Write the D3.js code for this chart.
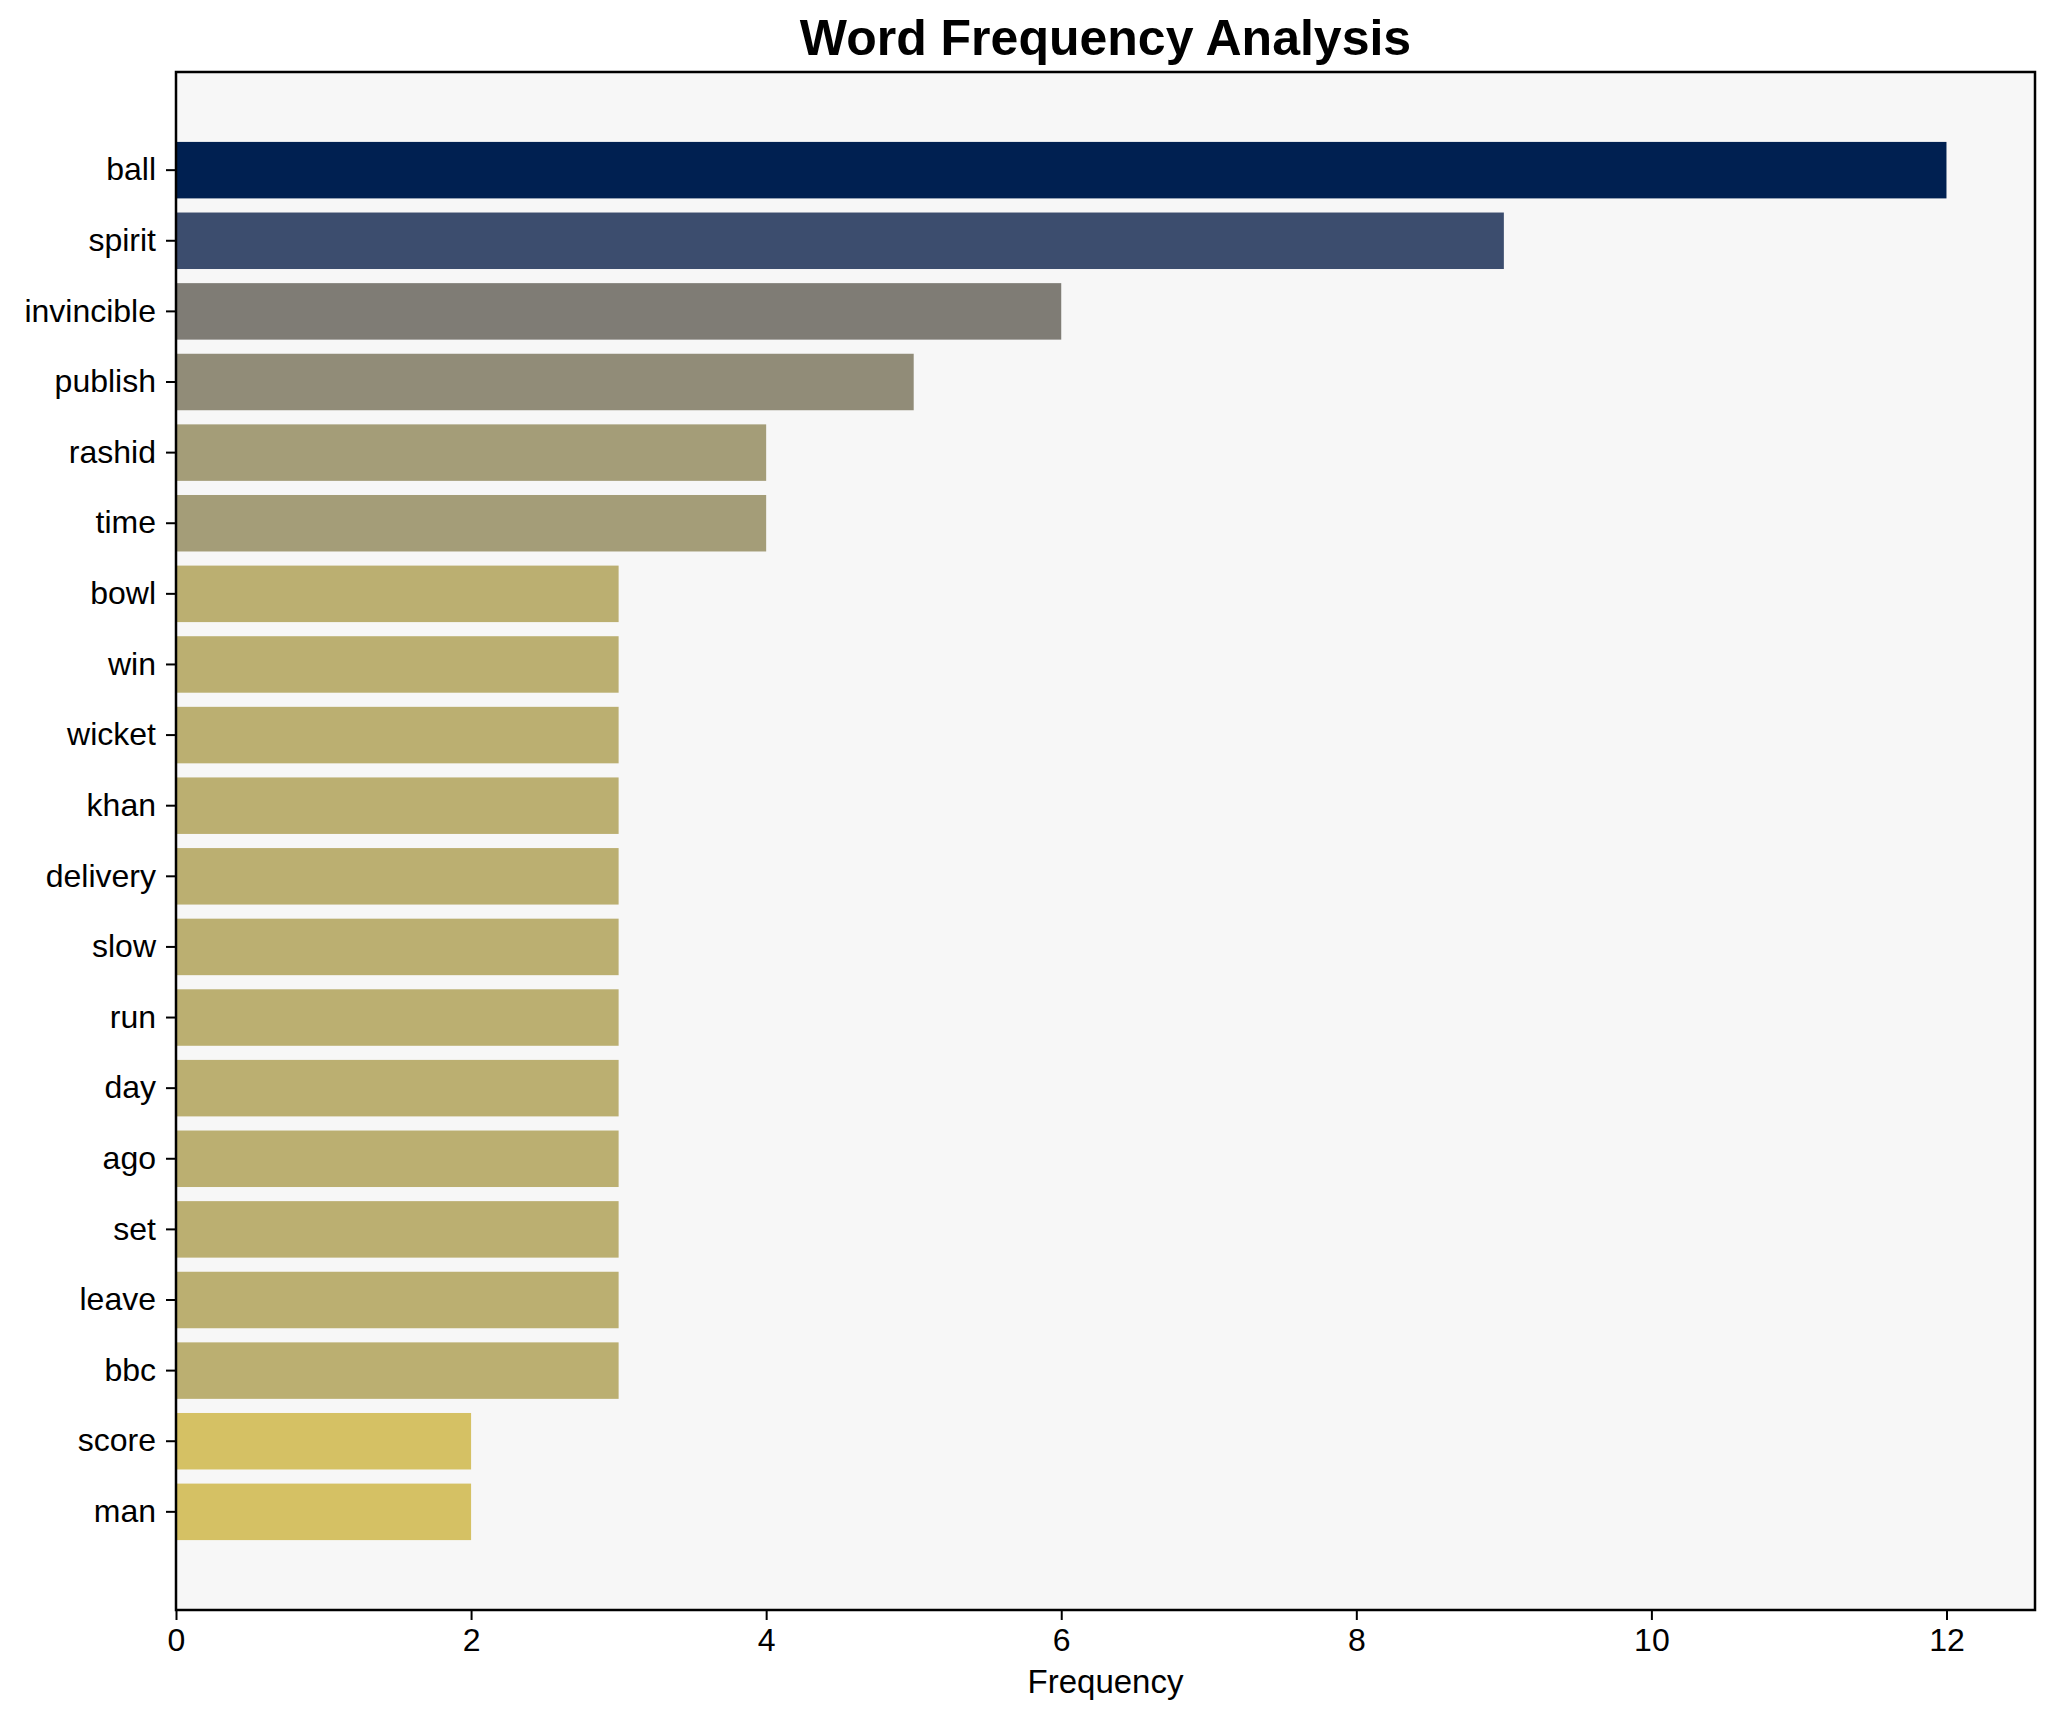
<!DOCTYPE html>
<html>
<head>
<meta charset="utf-8">
<script src="https://cdn.jsdelivr.net/npm/d3@7"></script>
<style>
  body { margin: 0; background: #ffffff; }
  svg text { font-family: Arial, "Liberation Sans", Helvetica, sans-serif; }
</style>
</head>
<body>
<div class="chart"></div>
<script>
// word counts
const words = ["ball", "spirit", "invincible", "publish", "rashid", "time", "bowl", "win", "wicket", "khan",
               "delivery", "slow", "run", "day", "ago", "set", "leave", "bbc", "score", "man"];
const counts = [12, 9, 6, 5, 4, 4, 3, 3, 3, 3, 3, 3, 3, 3, 3, 3, 3, 3, 2, 2];
const xTicks = [0, 2, 4, 6, 8, 10, 12];

const createChart = () => {
    const width = 2056, height = 1722;
    const margin = {top: 72, right: 21, bottom: 112, left: 176};
    const innerW = width - margin.left - margin.right;
    const innerH = height - margin.top - margin.bottom;

    const svg = d3.select(".chart").append("svg")
        .attr("width", width)
        .attr("height", height);

    const g = svg.append("g")
        .attr("transform", `translate(${margin.left},${margin.top})`);

    //matplotlib pads the x range by 5%
    const maxCount = d3.max(counts);
    const x = d3.scaleLinear()
        .domain([0, maxCount * 1.05])
        .range([0, innerW]);

    const y = d3.scaleBand()
        .domain(words)
        .range([0, innerH])
        .paddingInner(0.2)
        .paddingOuter(0.99);

    //bars are shaded with reversed cividis by count
    const colour = (v) => d3.interpolateCividis(1 - v / maxCount);

    g.append("rect")
        .attr("width", innerW)
        .attr("height", innerH)
        .attr("fill", "#f7f7f7");

    g.selectAll(".bar")
        .data(words)
        .enter().append("rect")
        .attr("class", "bar")
        .attr("x", 0)
        .attr("y", (d) => y(d))
        .attr("width", (d, i) => x(counts[i]))
        .attr("height", y.bandwidth())
        .attr("fill", (d, i) => colour(counts[i]));

    //y axis
    const yAxis = g.append("g")
        .call(d3.axisLeft(y).tickSize(10).tickPadding(10));
    yAxis.select(".domain").remove();
    yAxis.selectAll("line").attr("stroke", "#000").attr("stroke-width", 2);
    yAxis.selectAll("text")
        .attr("font-size", 32)
        .attr("fill", "#000");

    //x axis
    const xAxis = g.append("g")
        .attr("transform", `translate(0,${innerH})`)
        .call(d3.axisBottom(x).tickValues(xTicks).tickFormat(d3.format("d")).tickSize(10).tickPadding(8));
    xAxis.select(".domain").remove();
    xAxis.selectAll("line").attr("stroke", "#000").attr("stroke-width", 2);
    xAxis.selectAll("text")
        .attr("font-size", 32)
        .attr("fill", "#000");

    //frame
    g.append("rect")
        .attr("width", innerW)
        .attr("height", innerH)
        .attr("fill", "none")
        .attr("stroke", "#000")
        .attr("stroke-width", 2.5);

    svg.append("text")
        .text("Frequency")
        .attr("x", margin.left + innerW / 2)
        .attr("y", 1693)
        .attr("text-anchor", "middle")
        .attr("font-size", 33)
        .attr("fill", "#000");

    svg.append("text")
        .text("Word Frequency Analysis")
        .attr("x", margin.left + innerW / 2)
        .attr("y", 55)
        .attr("text-anchor", "middle")
        .attr("font-size", 50)
        .attr("font-weight", "bold")
        .attr("fill", "#000");
};

createChart();
</script>
</body>
</html>
